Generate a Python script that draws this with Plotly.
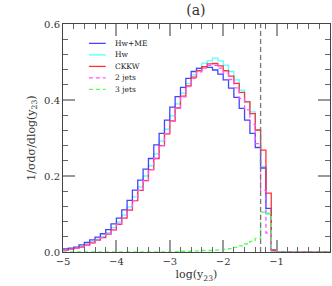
import plotly.graph_objects as go

# bin lower edges: -5.0 .. -0.1 (width 0.1)
bin_edges = [round(-5 + 0.1 * i, 1) for i in range(51)]

hw_me = [0.008, 0.010, 0.013, 0.019, 0.025, 0.032, 0.039, 0.048, 0.059, 0.074,
         0.089, 0.111, 0.136, 0.163, 0.189, 0.218, 0.246, 0.282, 0.312, 0.347,
         0.381, 0.409, 0.433, 0.457, 0.475, 0.483, 0.488, 0.486, 0.479, 0.468,
         0.453, 0.431, 0.407, 0.378, 0.347, 0.312, 0.275, 0.221, 0.115, 0.005,
         0, 0, 0, 0, 0, 0, 0, 0, 0, 0]
hw = [0.006, 0.008, 0.011, 0.015, 0.020, 0.027, 0.034, 0.041, 0.051, 0.064,
      0.079, 0.097, 0.119, 0.145, 0.171, 0.200, 0.227, 0.258, 0.292, 0.323,
      0.358, 0.390, 0.418, 0.443, 0.466, 0.484, 0.497, 0.503, 0.510, 0.503,
      0.492, 0.475, 0.453, 0.426, 0.396, 0.369, 0.320, 0.225, 0.100, 0.005,
      0, 0, 0, 0, 0, 0, 0, 0, 0, 0]
ckkw = [0.005, 0.007, 0.010, 0.013, 0.018, 0.024, 0.031, 0.038, 0.047, 0.058,
        0.073, 0.089, 0.110, 0.135, 0.162, 0.188, 0.217, 0.246, 0.280, 0.311,
        0.345, 0.379, 0.410, 0.437, 0.460, 0.477, 0.488, 0.495, 0.496, 0.490,
        0.477, 0.463, 0.444, 0.420, 0.395, 0.364, 0.321, 0.268, 0.155, 0.005,
        0, 0, 0, 0, 0, 0, 0, 0, 0, 0]
jets2 = [0.005, 0.007, 0.010, 0.013, 0.018, 0.024, 0.031, 0.038, 0.047, 0.058,
         0.073, 0.089, 0.110, 0.135, 0.162, 0.188, 0.217, 0.246, 0.280, 0.311,
         0.344, 0.378, 0.408, 0.435, 0.457, 0.474, 0.484, 0.491, 0.491, 0.484,
         0.470, 0.454, 0.432, 0.404, 0.374, 0.336, 0.285, 0.162, 0.050, 0.0,
         0, 0, 0, 0, 0, 0, 0, 0, 0, 0]
jets3 = [0, 0, 0, 0, 0, 0, 0, 0, 0, 0,
         0, 0, 0, 0, 0, 0, 0, 0, 0, 0,
         0.001, 0.001, 0.002, 0.002, 0.003, 0.003, 0.004, 0.004, 0.005, 0.006,
         0.007, 0.009, 0.012, 0.016, 0.021, 0.028, 0.036, 0.105, 0.102, 0.0,
         0, 0, 0, 0, 0, 0, 0, 0, 0, 0]
y_cut = -1.3

series = [
    ("Hw", hw, "#55ffff", "solid"),
    ("Hw+ME", hw_me, "#4444ff", "solid"),
    ("CKKW", ckkw, "#ff3333", "solid"),
    ("2 jets", jets2, "#ff55ff", "dash"),
    ("3 jets", jets3, "#55ff55", "dash"),
]
legend_order = ["Hw+ME", "Hw", "CKKW", "2 jets", "3 jets"]

fig = go.Figure()
for name, vals, col, dash in series:
    fig.add_trace(go.Scatter(
        x=bin_edges, y=vals + [vals[-1]], mode="lines", line_shape="hv",
        line=dict(color=col, width=1.3, dash="4px,3px" if dash == "dash" else "solid"),
        name=name, showlegend=False))

fig.add_shape(type="line", x0=y_cut, x1=y_cut, y0=0, y1=1, xref="x", yref="paper",
              line=dict(color="#777777", width=1.3, dash="5px,3px"))

# manual legend
cmap = {n: (c, d) for n, _, c, d in series}
for k, name in enumerate(legend_order):
    col, dash = cmap[name]
    yy = 0.915 - k * 0.0505
    fig.add_shape(type="line", xref="paper", yref="paper", x0=0.097, x1=0.16, y0=yy, y1=yy,
                  line=dict(color=col, width=1.3, dash="4px,3px" if dash == "dash" else "solid"))
    fig.add_annotation(xref="paper", yref="paper", x=0.187, y=yy, text=name, showarrow=False,
                       xanchor="left", yanchor="middle",
                       font=dict(family="DejaVu Serif", size=7.5, color="#222"))

serif = "DejaVu Serif"
fig.update_layout(
    width=332, height=286, margin=dict(l=63, r=2, t=24, b=34),
    plot_bgcolor="white", paper_bgcolor="white",
    font=dict(family=serif, size=10, color="#333"),
    title=dict(text="(a)", x=0.59, xanchor="center", y=0.965, yanchor="middle",
               font=dict(family=serif, size=14, color="#333")),
    xaxis=dict(range=[-5, 0], dtick=1, tick0=-5, ticks="inside", ticklen=12, tickwidth=1.5,
               tickcolor="#999", showline=True, linecolor="#444", linewidth=1, mirror="allticks",
               showgrid=False, zeroline=False,
               minor=dict(dtick=0.2, ticks="inside", ticklen=5, tickcolor="#666", tickwidth=1),
               title=dict(text="log(y<sub>23</sub>)", standoff=4, font=dict(size=11))),
    yaxis=dict(range=[0, 0.6], dtick=0.2, tickformat=".1f", ticks="inside", ticklen=12, tickwidth=1.5,
               tickcolor="#999", showline=True, linecolor="#444", linewidth=1, mirror="allticks",
               showgrid=False, zeroline=False,
               minor=dict(dtick=0.04, ticks="inside", ticklen=5, tickcolor="#666", tickwidth=1),
               title=dict(text="1/σdσ/dlog(y<sub>23</sub>)", standoff=6, font=dict(size=11))),
)
fig.write_html("out.html", config={"displayModeBar": False},
               post_script="document.body.style.margin='0';document.body.style.overflow='hidden';")
